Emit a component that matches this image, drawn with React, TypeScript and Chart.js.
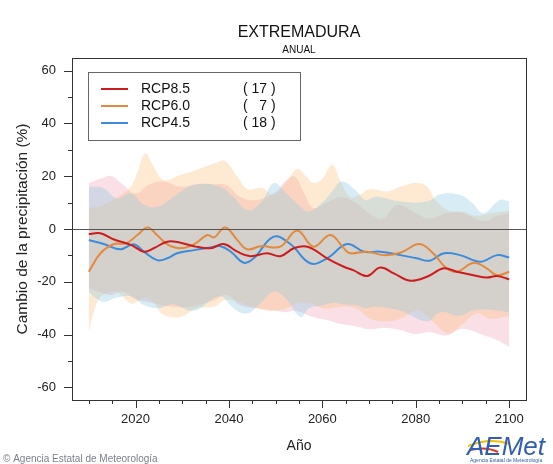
import React, { useEffect, useRef } from 'react';
import { Chart, registerables } from 'chart.js';

Chart.register(...registerables);

const TITLE = 'EXTREMADURA';
const SUBTITLE = 'ANUAL';
const X_TITLE = 'Año';
const Y_TITLE = 'Cambio de la precipitación (%)';
const COPYRIGHT = '© Agencia Estatal de Meteorología';

const SCENARIOS = ['RCP8.5', 'RCP6.0', 'RCP4.5'];
const MODEL_COUNTS = ['( 17 )', '(   7 )', '( 18 )'];
const LINE_COLORS = ['#cc1d1d', '#e3893d', '#3d8bdb'];
const BAND_COLORS = ['rgba(240,150,172,0.3)', 'rgba(253,188,118,0.33)', 'rgba(140,200,226,0.35)'];

const X_TICKS = [2020, 2040, 2060, 2080, 2100];
const Y_TICKS = [-60, -40, -20, 0, 20, 40, 60];

// Ensemble means
const rcp85Years = [2010, 2012.5, 2015.4, 2019, 2021.8, 2023.9, 2026.8, 2029.6, 2032.5, 2036, 2038.9, 2041.8, 2044.6, 2048.2, 2051, 2054, 2057, 2061, 2064.6, 2066.6, 2069.6, 2072.4, 2075.3, 2078.8, 2082.4, 2086, 2088.8, 2092.4, 2095.2, 2097.4, 2100];
const rcp85Mean = [-1.9, -1.6, -4, -6, -8.6, -7.3, -4.8, -5.2, -6.5, -7.3, -5.7, -8.6, -10.3, -9.2, -10.3, -7.2, -6.8, -11.1, -14.3, -15.6, -17.8, -14.6, -16.8, -19.6, -18.1, -14.9, -16.2, -17.5, -18.4, -17.8, -19.1];

const rcp60Years = [2010, 2012.5, 2015.4, 2018, 2020.4, 2022.6, 2024.6, 2026.8, 2029.6, 2032.5, 2035.4, 2036.8, 2039.2, 2041.8, 2043.9, 2046.8, 2051, 2054.6, 2058.1, 2061.7, 2064.6, 2065.9, 2069.6, 2073.1, 2076.7, 2080.8, 2083.7, 2086.6, 2088.8, 2092.4, 2095.2, 2097.4, 2100];
const rcp60Mean = [-16.2, -9.2, -5.7, -5.4, -2.3, 0.6, -2.3, -5.8, -7.3, -5.8, -2.3, -3.2, 0.6, -4.2, -7.7, -6.5, -6.7, -0.6, -6.7, -2.3, -7.3, -9.2, -8.6, -9.9, -9, -5.7, -9.2, -14.9, -16.2, -12.8, -14.9, -17.5, -16.2];

const rcp45Years = [2010, 2013.2, 2016.8, 2019.6, 2021.8, 2024.6, 2026.8, 2028.9, 2032.5, 2036, 2038.2, 2040.4, 2043.2, 2045.3, 2049.6, 2053.2, 2057.4, 2061, 2065.3, 2068.9, 2072.4, 2076.7, 2080.2, 2083, 2086, 2089.5, 2093.8, 2097.4, 2100];
const rcp45Mean = [-4.2, -5.7, -7.7, -5.8, -8.6, -11.8, -11.1, -9.2, -8, -7, -6.5, -8.6, -12.8, -11.1, -2.9, -5.8, -13, -11.1, -5.7, -8.6, -8.6, -9.9, -11.1, -12, -9.2, -9.9, -12.4, -9.9, -10.8];

// Ensemble spread bands
const rcp85BandYears = [2010, 2012.5, 2014.7, 2017.2, 2020, 2023, 2026, 2029.6, 2033, 2036.8, 2039.6, 2042.5, 2046, 2050, 2052, 2054, 2056, 2058, 2061, 2064, 2067, 2070, 2073, 2076, 2080, 2083, 2086.6, 2090, 2094.6, 2097.5, 2100];
const rcp85Upper = [17.4, 19, 20.1, 17, 13.5, 17, 18, 16, 17, 17, 16.5, 12, 11, 14, 18, 20, 14, 8, 10, 12, 10, 6, 4, 9, 6, 4, 6, 6, 3, 5, 6];
const rcp85Lower = [-22.5, -24, -25, -23.7, -26.6, -27.8, -29, -29.7, -29, -27, -25, -29, -30, -31, -31.5, -31, -32, -33.3, -34.5, -36, -36.8, -38, -37.5, -38, -39.8, -39, -40.3, -37.8, -40.3, -42.2, -44.7];

const rcp60BandYears = [2010, 2011.5, 2013, 2016, 2019, 2020.4, 2022.1, 2023.9, 2026, 2029.6, 2033, 2036.8, 2039, 2041.8, 2044, 2047, 2049.6, 2052.4, 2054.6, 2056.5, 2058.1, 2060, 2062.1, 2063.9, 2066, 2068, 2070.3, 2073.9, 2076.7, 2080.3, 2082.4, 2084.2, 2087, 2090, 2093, 2096, 2100];
const rcp60Upper = [8, 8.3, 9, 12, 16, 21.5, 28.7, 23.6, 18.6, 20.5, 22.4, 24.7, 25.9, 19.9, 15.1, 15.6, 13, 18, 22.7, 20, 17.4, 19, 24.3, 18, 12, 13, 15.1, 14.2, 16, 17.4, 16, 11, 7, 6.5, 5, 6, 6.8];
const rcp60Lower = [-39, -29, -25, -24, -28.2, -27.5, -26, -28, -32.5, -33.3, -30, -29.5, -27, -27.5, -29, -30.5, -31, -30, -28, -28, -28.5, -30, -30, -29.5, -29.5, -31, -34, -35, -34, -31, -33, -36, -39.6, -36, -32, -34, -33];

const rcp45BandYears = [2010, 2013, 2016, 2019, 2022, 2025, 2028, 2032.5, 2038, 2041, 2043.9, 2046.8, 2049.6, 2052, 2055.3, 2057.1, 2060, 2062, 2064.2, 2067.4, 2069.1, 2071.6, 2076.7, 2082.4, 2085.3, 2089.5, 2092, 2094.5, 2098, 2100];
const rcp45Upper = [16, 15.6, 11.6, 13.5, 9, 8.5, 12, 16.7, 16, 12, 7.2, 9.9, 17.4, 14, 8.5, 6.6, 10, 14, 18, 14.2, 11, 12.2, 10.4, 10.4, 13.2, 12.9, 10, 6, 11, 10.4];
const rcp45Lower = [-24, -27.6, -26, -25.5, -29, -30, -28.5, -31, -25.5, -30, -32, -28, -23.7, -26, -33.3, -30, -29, -28, -28.5, -29, -30, -29.5, -31, -35, -31.5, -32.9, -31, -30.5, -31, -31.6];

const MEAN_YEARS = [rcp85Years, rcp60Years, rcp45Years];
const MEANS = [rcp85Mean, rcp60Mean, rcp45Mean];
const BAND_YEARS = [rcp85BandYears, rcp60BandYears, rcp45BandYears];
const UPPERS = [rcp85Upper, rcp60Upper, rcp45Upper];
const LOWERS = [rcp85Lower, rcp60Lower, rcp45Lower];

const FONT = '"Liberation Sans", Arial, Helvetica, sans-serif';

const pts = (xs: number[], ys: number[]) => xs.map((x, i) => ({ x, y: ys[i] }));

const decorPlugin = {
  id: 'decor',
  afterDatasetsDraw(chart: any) {
    const { ctx, chartArea: a, scales } = chart;
    const y = scales.y;
    ctx.save();
    const y0 = Math.round(y.getPixelForValue(0)) + 0.5;
    ctx.strokeStyle = '#555';
    ctx.lineWidth = 1;
    ctx.beginPath();
    ctx.moveTo(a.left, y0);
    ctx.lineTo(a.right, y0);
    ctx.stroke();
    ctx.restore();
  },
  afterDraw(chart: any) {
    const { ctx, chartArea: a, scales } = chart;
    const x = scales.x;
    const y = scales.y;
    ctx.save();
    // box
    ctx.strokeStyle = '#333';
    ctx.lineWidth = 1;
    ctx.strokeRect(Math.round(a.left) + 0.5, Math.round(a.top) + 0.5, Math.round(a.right - a.left), Math.round(a.bottom - a.top));
    // y ticks
    ctx.beginPath();
    for (let v = -60; v <= 60; v += 10) {
      const py = Math.round(y.getPixelForValue(v)) + 0.5;
      const len = v % 20 === 0 ? 8 : 4;
      ctx.moveTo(a.left, py);
      ctx.lineTo(a.left - len, py);
    }
    // x ticks
    for (let v = 2010; v <= 2100; v += 5) {
      const px = Math.round(x.getPixelForValue(v)) + 0.5;
      const len = v % 20 === 0 ? 8 : 4;
      ctx.moveTo(px, a.bottom);
      ctx.lineTo(px, a.bottom + len);
    }
    ctx.stroke();

    // titles
    const cx = (a.left + a.right) / 2;
    ctx.fillStyle = '#111';
    ctx.textAlign = 'center';
    ctx.textBaseline = 'middle';
    ctx.font = `16px ${FONT}`;
    ctx.fillText(TITLE, cx, 33);
    ctx.font = `10px ${FONT}`;
    ctx.fillText(SUBTITLE, cx, 50);

    // legend
    const lx = 88, ly = 72, lw = 212, lh = 68;
    ctx.strokeStyle = '#666';
    ctx.lineWidth = 1;
    ctx.fillStyle = '#fff';
    ctx.fillRect(lx, ly, lw, lh);
    ctx.strokeRect(lx + 0.5, ly + 0.5, lw, lh);
    ctx.font = `14px ${FONT}`;
    ctx.textAlign = 'left';
    ctx.textBaseline = 'middle';
    SCENARIOS.forEach((name, i) => {
      const yy = 89 + i * 17;
      ctx.strokeStyle = LINE_COLORS[i];
      ctx.lineWidth = 2;
      ctx.beginPath();
      ctx.moveTo(101, yy);
      ctx.lineTo(128, yy);
      ctx.stroke();
      ctx.fillStyle = '#111';
      ctx.fillText(name, 141, yy);
      ctx.fillText(MODEL_COUNTS[i], 243, yy);
    });

    // copyright
    ctx.font = `10px ${FONT}`;
    ctx.fillStyle = '#7a7f8a';
    ctx.textAlign = 'left';
    ctx.textBaseline = 'alphabetic';
    ctx.fillText(COPYRIGHT, 3, 462);

    // logo
    ctx.strokeStyle = '#f2c200';
    ctx.lineWidth = 2;
    ctx.beginPath();
    ctx.moveTo(468, 446);
    ctx.quadraticCurveTo(490, 437, 510, 444);
    ctx.stroke();
    ctx.strokeStyle = '#d83a2a';
    ctx.beginPath();
    ctx.moveTo(470, 450);
    ctx.quadraticCurveTo(486, 446, 498, 452);
    ctx.stroke();
    ctx.font = `italic 26px ${FONT}`;
    ctx.fillStyle = '#2f5fae';
    ctx.fillText('AEMet', 467, 455);
    ctx.font = `5px ${FONT}`;
    ctx.fillText('Agencia Estatal de Meteorología', 470, 462);
    ctx.restore();
  },
};

export default function App() {
  const ref = useRef<HTMLCanvasElement | null>(null);
  useEffect(() => {
    if (!ref.current) return;
    Chart.defaults.font.family = FONT;
    const lineSets = SCENARIOS.map((name, i) => ({
      label: name,
      data: pts(MEAN_YEARS[i], MEANS[i]),
      borderColor: LINE_COLORS[i],
      backgroundColor: LINE_COLORS[i],
      borderWidth: 2,
      pointRadius: 0,
      tension: 0.4,
      fill: false,
      order: 0,
    }));
    const bandSets: any[] = [];
    SCENARIOS.forEach((name, i) => {
      bandSets.push({
        label: name + ' max',
        data: pts(BAND_YEARS[i], UPPERS[i]),
        borderWidth: 0,
        borderColor: 'rgba(0,0,0,0)',
        backgroundColor: BAND_COLORS[i],
        pointRadius: 0,
        tension: 0.4,
        fill: '+1',
        order: 3 - i,
      });
      bandSets.push({
        label: name + ' min',
        data: pts(BAND_YEARS[i], LOWERS[i]),
        borderWidth: 0,
        borderColor: 'rgba(0,0,0,0)',
        backgroundColor: BAND_COLORS[i],
        pointRadius: 0,
        tension: 0.4,
        fill: false,
        order: 3 - i,
      });
    });
    const chart = new Chart(ref.current, {
      type: 'line',
      data: { datasets: [...lineSets, ...bandSets] },
      options: {
        animation: false,
        responsive: false,
        maintainAspectRatio: false,
        layout: { padding: { top: 58, right: 27, bottom: 0, left: 0 } },
        plugins: { legend: { display: false }, tooltip: { enabled: false }, title: { display: false } },
        scales: {
          x: {
            type: 'linear',
            min: 2006.4,
            max: 2103.6,
            afterBuildTicks: (s: any) => { s.ticks = X_TICKS.map((v) => ({ value: v })); },
            afterFit: (s: any) => { s.height = 64; },
            ticks: { color: '#222', font: { size: 13 }, padding: 12, maxRotation: 0, autoSkip: false, callback: (v: any) => String(v) },
            grid: { display: false, drawTicks: false },
            border: { display: false },
            title: { display: true, text: X_TITLE, color: '#222', font: { size: 14 }, padding: { top: 0, bottom: 9 } },
          },
          y: {
            type: 'linear',
            min: -64.8,
            max: 64.8,
            afterBuildTicks: (s: any) => { s.ticks = Y_TICKS.map((v) => ({ value: v })); },
            afterFit: (s: any) => { s.width = 72; },
            ticks: { color: '#222', font: { size: 13 }, padding: 16, autoSkip: false, callback: (v: any) => String(v) },
            grid: { display: false, drawTicks: false },
            border: { display: false },
            title: { display: true, text: Y_TITLE, color: '#222', font: { size: 15.5 }, padding: { top: 13, bottom: 0 } },
          },
        },
      },
      plugins: [decorPlugin],
    });
    return () => chart.destroy();
  }, []);
  return (
    <div style={{ position: 'absolute', left: 0, top: 0, width: 553, height: 464, background: '#fff' }}>
      <canvas ref={ref} width={553} height={464} style={{ display: 'block' }} />
    </div>
  );
}
